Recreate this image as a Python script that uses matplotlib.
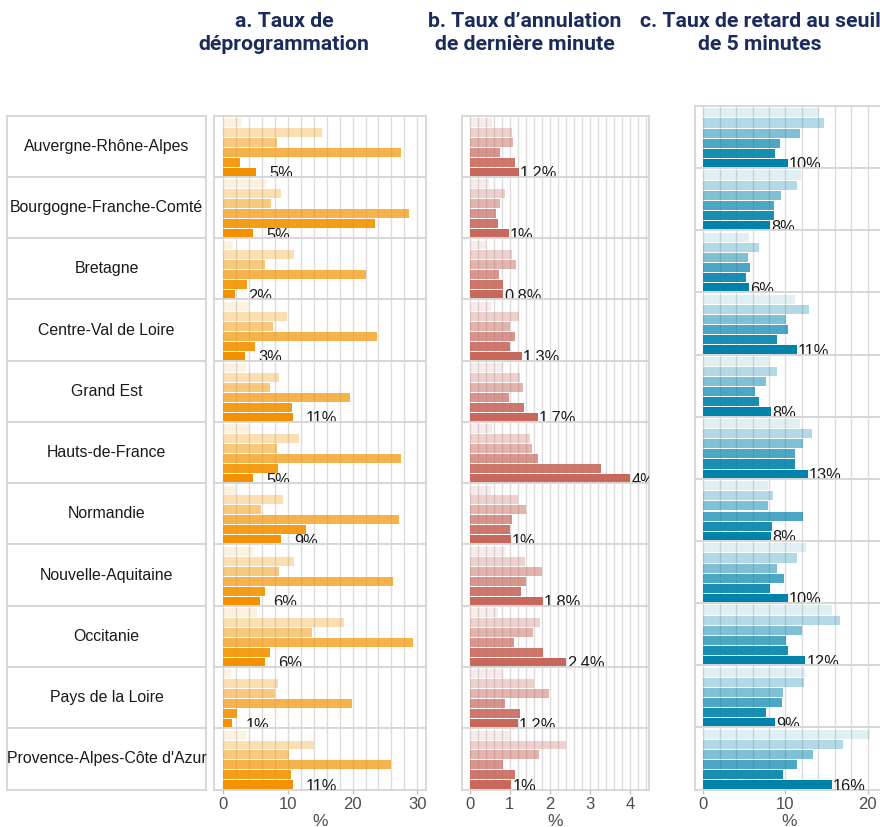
import matplotlib
matplotlib.use("Agg")
import matplotlib.pyplot as plt
import numpy as np

regions = ["Auvergne-Rhône-Alpes", "Bourgogne-Franche-Comté", "Bretagne",
           "Centre-Val de Loire", "Grand Est", "Hauts-de-France", "Normandie",
           "Nouvelle-Aquitaine", "Occitanie", "Pays de la Loire",
           "Provence-Alpes-Côte d'Azur"]

# a. Taux de déprogrammation (%), 6 periods per region (oldest -> latest)
deprog = [
    [2.9, 15.3, 8.3, 27.5, 2.6, 5.1],
    [6.6, 8.9, 7.4, 28.8, 23.5, 4.6],
    [1.5, 11.0, 6.5, 22.0, 3.7, 1.8],
    [3.9, 9.9, 7.7, 23.7, 4.9, 3.4],
    [3.5, 8.6, 7.2, 19.6, 10.6, 10.8],
    [4.0, 11.7, 8.3, 27.5, 8.5, 4.6],
    [2.0, 9.3, 5.8, 27.1, 12.8, 8.9],
    [4.6, 11.0, 8.6, 26.3, 6.5, 5.7],
    [5.2, 18.7, 13.7, 29.3, 7.2, 6.4],
    [1.2, 8.5, 8.0, 19.9, 2.1, 1.4],
    [3.5, 14.0, 10.2, 26.0, 10.5, 10.8],
]

# b. Taux d'annulation de dernière minute (%)
annul = [
    [0.56, 1.06, 1.08, 0.76, 1.13, 1.23],
    [0.48, 0.88, 0.76, 0.66, 0.71, 0.98],
    [0.41, 1.06, 1.16, 0.73, 0.83, 0.84],
    [0.53, 1.23, 1.01, 1.13, 1.01, 1.31],
    [0.83, 1.26, 1.33, 0.98, 1.35, 1.70],
    [0.56, 1.50, 1.55, 1.70, 3.28, 4.00],
    [0.53, 1.21, 1.40, 1.06, 1.01, 1.03],
    [0.88, 1.38, 1.80, 1.40, 1.28, 1.83],
    [0.71, 1.75, 1.58, 1.11, 1.83, 2.40],
    [0.83, 1.60, 1.98, 0.88, 1.26, 1.21],
    [1.00, 2.40, 1.73, 0.83, 1.13, 1.04],
]

# c. Taux de retard au seuil de 5 minutes (%)
retard = [
    [14.1, 14.7, 11.8, 9.3, 8.7, 10.3],
    [11.9, 11.4, 9.4, 8.6, 8.6, 8.1],
    [5.6, 6.8, 5.4, 5.7, 5.2, 5.6],
    [11.2, 12.9, 10.1, 10.3, 9.0, 11.4],
    [8.0, 9.0, 7.6, 6.3, 6.8, 8.2],
    [11.8, 13.2, 12.1, 11.2, 11.2, 12.7],
    [7.9, 8.5, 7.9, 12.1, 8.4, 8.2],
    [12.5, 11.4, 9.0, 9.8, 8.1, 10.3],
    [15.7, 16.6, 12.0, 10.1, 10.3, 12.4],
    [12.4, 12.2, 9.7, 9.6, 7.6, 8.7],
    [20.3, 17.0, 13.3, 11.4, 9.7, 15.6],
]

titles = ["a. Taux de\ndéprogrammation",
          "b. Taux d’annulation\nde dernière minute",
          "c. Taux de retard au seuil\nde 5 minutes"]
xticks_list = [[0, 10, 20, 30], [0, 1, 2, 3, 4], [0, 10, 20]]

alphas = [0.12, 0.3, 0.5, 0.7, 0.9, 1.0]

W, H = 880, 827
fig = plt.figure(figsize=(W / 100, H / 100), dpi=100)
fig.patch.set_facecolor("white")

GRID = "#dcdcdc"
BORDER = "#d6d6d6"
TXT = "#1a1a1a"
TICKC = "#4d4d4d"
FONT = ["Liberation Sans", "DejaVu Sans"]


def fig_rect(x0, y0, x1, y1):
    return [x0 / W, 1 - y1 / H, (x1 - x0) / W, (y1 - y0) / H]


panels = [
    dict(data=deprog, color="#F39200", x0=213.7, x1=426.3, top=115.7, bottom=789.5,
         xlim=(-1.5, 31.4), grid=np.arange(0, 31, 2), off=2.0,
         fmt=lambda v: f"{round(v):d}%"),
    dict(data=annul, color="#C8685D", x0=462.0, x1=648.7, top=115.7, bottom=789.5,
         xlim=(-0.19, 4.46), grid=np.arange(0, 4.41, 0.2), off=0.025,
         fmt=lambda v: f"{round(v, 1):g}%"),
    dict(data=retard, color="#0082AB", x0=695.3, x1=883.0, top=106.0, bottom=789.5,
         xlim=(-0.97, 21.86), grid=np.arange(0, 21, 2), off=0.15,
         fmt=lambda v: f"{round(v):d}%"),
]

nrow = len(regions)

# Left strip with region names
lt, lb = 115.7, 789.5
rh = (lb - lt) / nrow
for r, name in enumerate(regions):
    ax = fig.add_axes(fig_rect(7.3, lt + r * rh, 205.7, lt + (r + 1) * rh))
    ax.set_xticks([])
    ax.set_yticks([])
    for s in ax.spines.values():
        s.set_color(BORDER)
        s.set_linewidth(1.3)
    ax.text(0.5, 0.5, name, ha="center", va="center", transform=ax.transAxes,
            fontsize=11.4, color=TXT, family=FONT)

for pi, p in enumerate(panels):
    rh = (p["bottom"] - p["top"]) / nrow
    for r in range(nrow):
        y0 = p["top"] + r * rh
        ax = fig.add_axes(fig_rect(p["x0"], y0, p["x1"], y0 + rh))
        vals = p["data"][r]
        ypos = np.arange(len(vals))
        for g in p["grid"]:
            ax.axvline(g, color=GRID, lw=1.0, zorder=0)
        for i, v in enumerate(vals):
            ax.barh(ypos[i], v, height=0.9, color=p["color"], alpha=alphas[i],
                    linewidth=0, zorder=2)
        last = vals[-1]
        t = ax.text(last + p["off"], ypos[-1] + 0.15, p["fmt"](last), ha="left",
                    va="center", fontsize=11.8, color=TXT, family=FONT, zorder=3)
        t.set_clip_on(True)
        ax.set_xlim(*p["xlim"])
        ax.set_ylim(5.46, -0.68)
        ax.set_yticks([])
        for s in ax.spines.values():
            s.set_color(BORDER)
            s.set_linewidth(1.3)
        if r == nrow - 1:
            ax.set_xticks(xticks_list[pi])
            ax.tick_params(axis="x", length=3, width=1, color="#bdbdbd",
                           labelsize=12, labelcolor=TICKC, pad=2.5)
            for lab in ax.get_xticklabels():
                lab.set_family(FONT)
        else:
            ax.set_xticks([])
    # axis title
    fig.text(((p["x0"] + p["x1"]) / 2) / W, 1 - 821 / H, "%", ha="center",
             va="center", fontsize=12.5, color=TICKC, family=FONT)

title_x = [284, 525, 760]
for tx, tt in zip(title_x, titles):
    fig.text(tx / W, 1 - 33 / H, tt, ha="center", va="center", fontsize=15.3,
             fontweight="bold", color="#1B2B5C", family=["Roboto", "DejaVu Sans"],
             linespacing=1.3)

fig.savefig("out.png", dpi=100, facecolor="white")
